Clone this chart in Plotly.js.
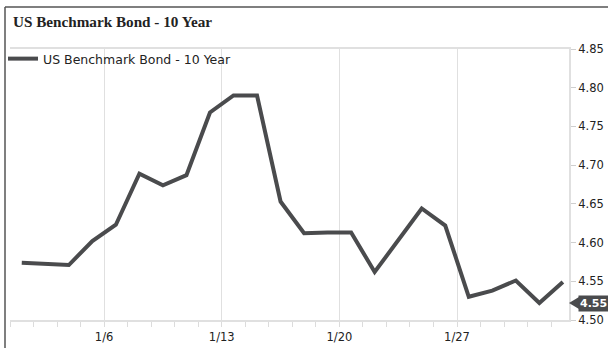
<!DOCTYPE html>
<html>
<head>
<meta charset="utf-8">
<script src="https://cdn.plot.ly/plotly-3.0.1.min.js"></script>
<style>
html,body{margin:0;padding:0;background:#fff;}
#chart{width:608px;height:348px;}
</style>
</head>
<body>
<div id="chart"></div>
<script>
// Trading days (weekdays) shown on the axis
const dates = ['12/31','1/1','1/2','1/3','1/6','1/7','1/8','1/9','1/10','1/13','1/14','1/15',
               '1/16','1/17','1/20','1/21','1/22','1/23','1/24','1/27','1/28','1/29','1/30','1/31'];
// 10-year yield (%)
const yields = [4.574, 4.573, 4.571, 4.602, 4.623, 4.689, 4.674, 4.687, 4.768, 4.790, 4.790, 4.653,
                4.612, 4.613, 4.613, 4.562, 4.603, 4.644, 4.622, 4.530, 4.538, 4.551, 4.522, 4.549];
const tickLabels = ['1/6','1/13','1/20','1/27'];
const seriesName = 'US Benchmark Bond - 10 Year';

// point sits in the middle of its day slot; ticks mark day starts
const xs = dates.map((d, i) => i + 0.5);
const tickPos = tickLabels.map(t => dates.indexOf(t));
const last = yields[yields.length - 1];

const axisFont = {family: 'DejaVu Sans, Verdana, sans-serif', size: 11.5, color: '#222'};
const lineCol = '#4a4b4d';

const trace = {
  x: xs, y: yields, type: 'scatter', mode: 'lines', name: seriesName,
  line: {color: lineCol, width: 4, shape: 'linear'},
  hoverinfo: 'skip'
};

const layout = {
  width: 608, height: 348,
  margin: {l: 10, r: 39, t: 49, b: 28, autoexpand: false},
  paper_bgcolor: '#fff', plot_bgcolor: '#fff',
  title: {
    text: '<b>' + seriesName + '</b>',
    font: {family: 'Liberation Serif, Times New Roman, serif', size: 15.2, color: '#222'},
    xref: 'container', yref: 'container', x: 13/608, xanchor: 'left',
    y: 1 - 21.5/348, yanchor: 'middle'
  },
  showlegend: true,
  legend: {
    x: -7/559, y: 1 + 5/271, xanchor: 'left', yanchor: 'top', xref: 'paper', yref: 'paper',
    bgcolor: 'rgba(0,0,0,0)', borderwidth: 0,
    font: {family: 'DejaVu Sans, Verdana, sans-serif', size: 12.5, color: '#222'}
  },
  xaxis: {
    range: [0, 23.76], fixedrange: true, automargin: false,
    tickmode: 'array', tickvals: tickPos, ticktext: tickLabels,
    ticks: 'outside', ticklen: 5, tickcolor: '#dcdcdc', tickwidth: 1,
    showgrid: true, gridcolor: '#e0e0e0', gridwidth: 1,
    showline: true, linecolor: '#e0e0e0', linewidth: 2, mirror: true,
    zeroline: false, tickfont: axisFont,
    minor: {tick0: 0, dtick: 1, ticks: 'outside', ticklen: 5, tickcolor: '#dcdcdc', tickwidth: 1, showgrid: false}
  },
  yaxis: {
    side: 'right', range: [4.50, 4.85], fixedrange: true, automargin: false,
    tickmode: 'linear', tick0: 4.50, dtick: 0.05, tickformat: '.2f',
    ticks: 'outside', ticklen: 5, tickcolor: '#cfcfcf', tickwidth: 1,
    showgrid: false, zeroline: false,
    showline: true, linecolor: '#e0e0e0', linewidth: 2,
    tickfont: axisFont
  },
  shapes: [
    // outer frame (top + left)
    {type: 'line', xref: 'paper', yref: 'paper', x0: -5/559, x1: 598/559, y0: 313/271, y1: 313/271,
     line: {color: '#555', width: 1.5}},
    {type: 'line', xref: 'paper', yref: 'paper', x0: -5/559, x1: -5/559, y0: 313/271, y1: -30/271,
     line: {color: '#555', width: 1.5}},
    // pointer of last-value label
    {type: 'path', xref: 'paper', yref: 'y', xsizemode: 'pixel', ysizemode: 'pixel',
     xanchor: 1, yanchor: last, path: 'M0,-21 L10,-15 L10,-27 Z',
     fillcolor: lineCol, line: {width: 0}}
  ],
  annotations: [{
    xref: 'paper', yref: 'y', x: 1, y: last, xanchor: 'left', yanchor: 'middle',
    xshift: 9, yshift: -21, showarrow: false,
    text: '<b>' + last.toFixed(2) + '</b>',
    font: {family: 'DejaVu Sans, Verdana, sans-serif', size: 11, color: '#fff'},
    bgcolor: lineCol, borderpad: 1
  }]
};

Plotly.newPlot('chart', [trace], layout, {displayModeBar: false, staticPlot: true});
</script>
</body>
</html>
